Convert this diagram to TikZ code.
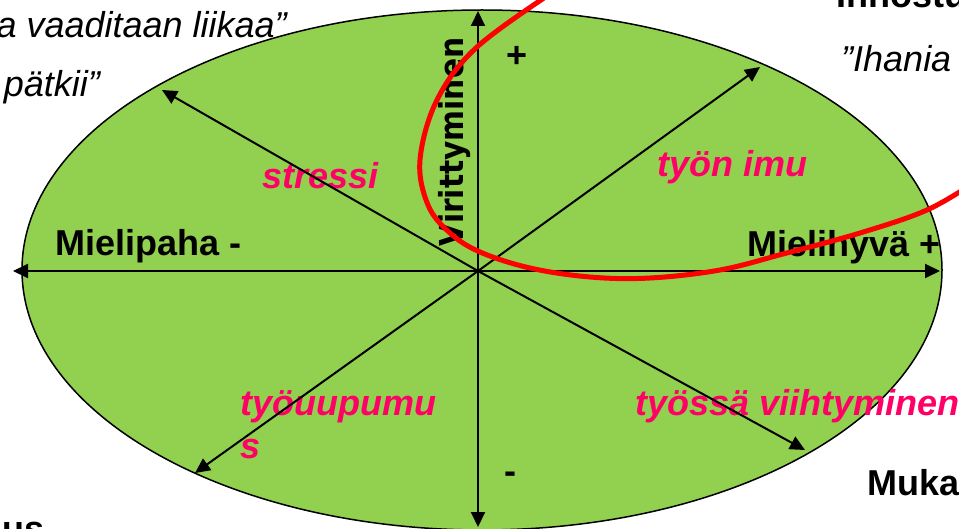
\documentclass[tikz,border=0pt]{standalone}
\usepackage{fontspec}
\setmainfont{Liberation Sans}
\newfontfamily\vfont{DejaVu Sans Condensed}
\usetikzlibrary{arrows.meta}
\definecolor{ellgreen}{RGB}{146,208,80}
\definecolor{pinklab}{RGB}{255,0,102}
\begin{document}
\begin{tikzpicture}[x=1pt,y=-1pt,
  axlab/.style={inner sep=0pt, font=\fontsize{36}{42}\selectfont\bfseries},
  zone/.style={inner sep=0pt, text=pinklab, font=\fontsize{36}{42}\selectfont\bfseries\itshape},
  quote/.style={inner sep=0pt, font=\fontsize{36}{42}\selectfont\itshape},
  vlab/.style={inner sep=0pt, font=\fontsize{33}{40}\selectfont\vfont\bfseries},
  arr/.style={line width=2pt, -{Triangle[length=15pt,width=14pt]}},
  arrboth/.style={line width=2pt, {Triangle[length=15pt,width=14pt]}-{Triangle[length=15pt,width=14pt]}},
  curve/.style={draw=red, line width=5pt}
]
\path[use as bounding box] (0,0) rectangle (959,529);
\clip (0,0) rectangle (959,529);
% ellipse
\draw[fill=ellgreen, line width=1.5pt] (482,270) ellipse [x radius=460, y radius=260];
% coordinates
\coordinate (O) at (478,271);
\coordinate (L) at (13,271);
\coordinate (R) at (940,271);
\coordinate (T) at (478,11);
\coordinate (B) at (478,527);
\coordinate (UL) at (162,90);
\coordinate (UR) at (760,67);
\coordinate (LL) at (195,473);
\coordinate (LR) at (805,450);
% texts
\node[axlab, anchor=base west] (mp) at (55,256) {Mielipaha -};
\node[axlab, anchor=base west] (mh) at (747,257) {Mielihyvä +};
\node[vlab, anchor=base, rotate=90] (vir) at (463,142) {Virittyminen};
\node[axlab] (plus) at (517,57) {+};
\node[axlab] (minus) at (510,478) {-};
\node[zone, anchor=base west] (str) at (262,189) {stressi};
\node[zone, anchor=base west] (imu) at (657,177) {työn imu};
\node[zone, anchor=base west] (uup1) at (240,415) {työuupumu};
\node[zone, anchor=base west] (uup2) at (240,458) {s};
\node[zone, anchor=base west] (vii) at (635,415) {työssä viihtyminen};
\node[axlab, anchor=base west] (inn) at (836,8) {Innostu};
\node[quote, anchor=base west] (iha) at (841,72) {”Ihania};
\node[axlab, anchor=base west] (muk) at (867,495) {Mukav};
\node[axlab, anchor=base east] (mas) at (45,541) {nus};
\node[quote, anchor=base east] (q1) at (287,38) {a vaaditaan liikaa”};
\node[quote, anchor=base east] (q2) at (100,97) {pätkii”};
% axes
\draw[arrboth] (L) -- (R);
\draw[arrboth] (T) -- (B);
\draw[arr] (O) -- (UL);
\draw[arr] (O) -- (UR);
\draw[arr] (O) -- (LL);
\draw[arr] (O) -- (LR);
% red curve
\draw[curve] plot[smooth, tension=0.6] coordinates {(556,-10) (477,47) (437,100) (420,160) (428,205) (450,233) (480,252) (530,268) (590,277) (650,278) (720,270) (783,254) (860,233) (927,210) (975,182)};
\end{tikzpicture}
\end{document}
